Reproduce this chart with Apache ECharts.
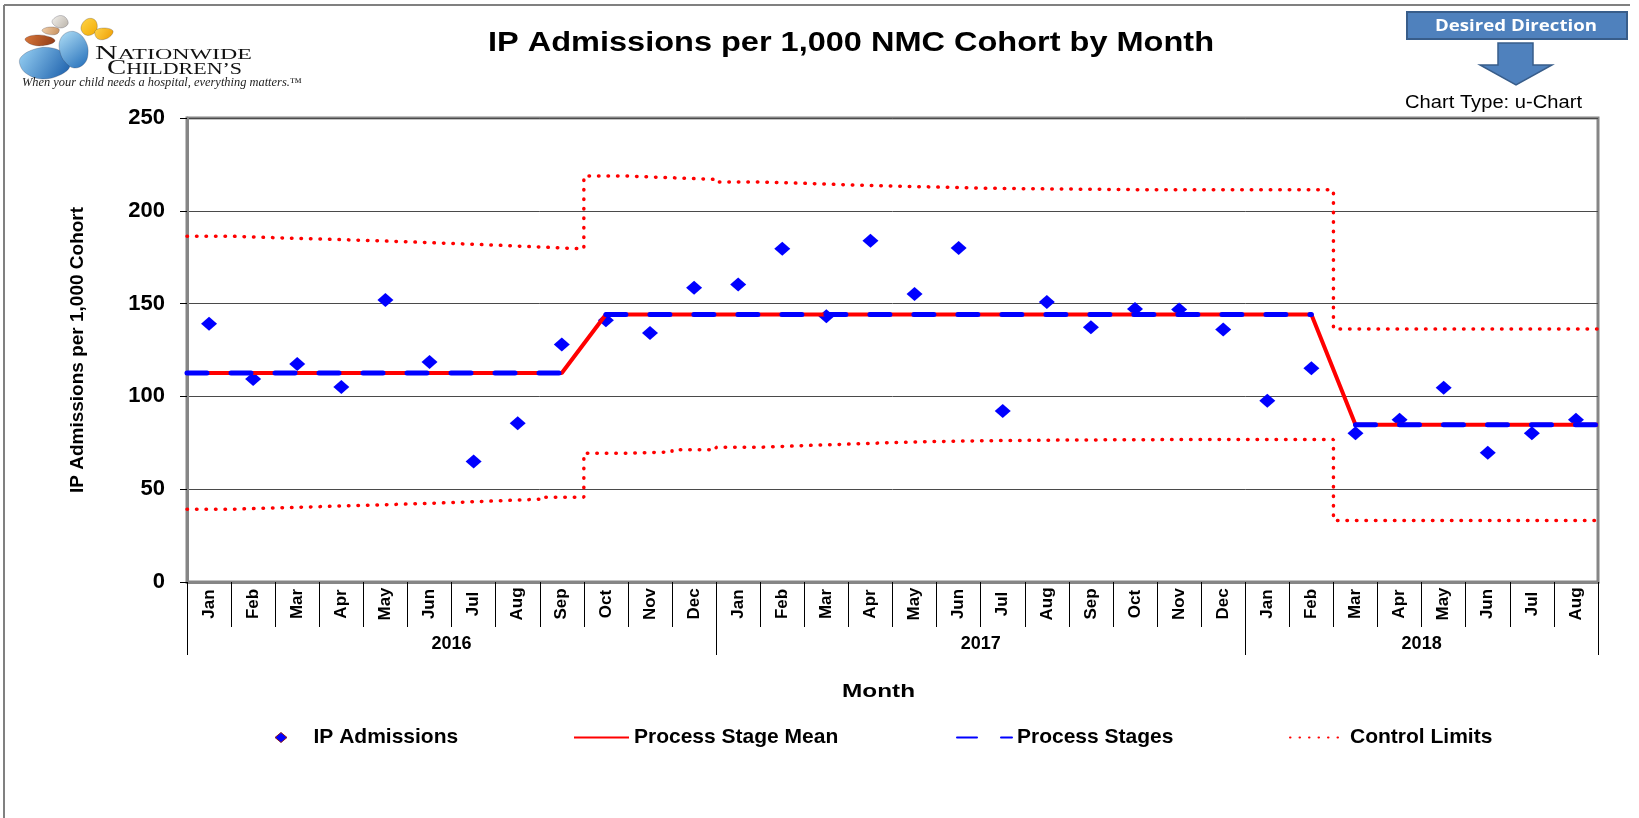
<!DOCTYPE html>
<html>
<head>
<meta charset="utf-8">
<title>IP Admissions per 1,000 NMC Cohort by Month</title>
<script src="https://cdn.jsdelivr.net/npm/echarts@6.0.0/dist/echarts.min.js"></script>
<style>
  html, body { margin: 0; padding: 0; background: #fff; }
  #chart { width: 1639px; height: 818px; }
</style>
</head>
<body>
<div id="chart"></div>
<script>
// ---- data ----
var months = ['Jan', 'Feb', 'Mar', 'Apr', 'May', 'Jun', 'Jul', 'Aug', 'Sep', 'Oct', 'Nov', 'Dec',
  'Jan', 'Feb', 'Mar', 'Apr', 'May', 'Jun', 'Jul', 'Aug', 'Sep', 'Oct', 'Nov', 'Dec',
  'Jan', 'Feb', 'Mar', 'Apr', 'May', 'Jun', 'Jul', 'Aug'];
var years = ['2016', '2017', '2018'];
var monthsPerYear = [12, 12, 8];

var admissions = [139.2, 109.4, 117.4, 105.0, 152.0, 118.5, 64.9, 85.6, 127.9, 141.0, 134.2, 158.6,
  160.3, 179.5, 143.2, 183.8, 155.2, 180.0, 92.1, 150.9, 137.2, 147.1, 146.8, 136.0,
  97.7, 115.1, 80.2, 87.4, 104.7, 69.6, 80.2, 87.4];

var stageMean = [112.6, 112.6, 112.6, 112.6, 112.6, 112.6, 112.6, 112.6, 112.6, 144.1, 144.1, 144.1,
  144.1, 144.1, 144.1, 144.1, 144.1, 144.1, 144.1, 144.1, 144.1, 144.1, 144.1, 144.1,
  144.1, 144.1, 84.7, 84.7, 84.7, 84.7, 84.7, 84.7];

var upperLimit = [186.3, 185.5, 184.8, 184.1, 183.3, 182.4, 181.5, 180.5, 179.5, 218.7, 217.8, 216.9,
  215.5, 214.8, 214.0, 213.3, 212.8, 212.2, 211.9, 211.7, 211.5, 211.3, 211.3, 211.3,
  211.3, 211.3, 136.3, 136.3, 136.3, 136.3, 136.3, 136.3];

var lowerLimit = [39.2, 39.9, 40.6, 41.3, 42.0, 42.8, 43.7, 44.6, 45.7, 69.4, 70.1, 71.2,
  72.6, 73.5, 74.3, 75.1, 75.7, 76.1, 76.3, 76.5, 76.6, 76.7, 76.8, 76.8,
  76.8, 76.8, 33.1, 33.1, 33.1, 33.1, 33.1, 33.1];

var yMin = 0, yMax = 250, yStep = 50;

// ---- helpers ----
var SANS = '"Liberation Sans", Arial, sans-serif';
var SERIF = '"Liberation Serif", "Times New Roman", serif';

var yearBounds = [0];
monthsPerYear.forEach(function (n, i) { yearBounds.push(yearBounds[i] + n); });
var yearCenters = years.map(function (y, i) { return (yearBounds[i] + yearBounds[i + 1]) / 2; });

// control limits: flat across each month's slot
function limitPoints(vals) {
  var pts = vals.map(function (v, i) { return [i, v]; });
  pts.push([vals.length, vals[vals.length - 1]]);
  return pts;
}

// stage lines run edge to edge through the month centres
function meanPoints(vals, breakStages) {
  var pts = [[0, vals[0]]];
  vals.forEach(function (v, i) {
    if (breakStages && i > 0 && v !== vals[i - 1]) pts.push([i, '-']);
    pts.push([i + 0.5, v]);
  });
  pts.push([vals.length, vals[vals.length - 1]]);
  return pts;
}

var measureCtx = document.createElement('canvas').getContext('2d');
function textWidth(text, font) {
  measureCtx.font = font;
  return measureCtx.measureText(text).width;
}
// text in the original picture is stretched sideways
function stretchText(text, font, x, baseline, size, width, extra) {
  return {
    type: 'text',
    x: x,
    y: baseline - 0.345 * size,
    scaleX: width / textWidth(text, font),
    style: Object.assign({ text: text, font: font, fill: '#000', align: 'left', verticalAlign: 'middle' }, extra || {})
  };
}

// ---- logo ----
var nFont = '19px ' + SERIF, nRestFont = '14.5px ' + SERIF;
var nScale = 157 / (textWidth('N', nFont) + textWidth('ATIONWIDE', nRestFont));
var cFont = '21px ' + SERIF, cRestFont = '16px ' + SERIF;
var cScale = 135 / (textWidth('C', cFont) + textWidth('HILDREN\u2019S', cRestFont));
var tagFont = 'italic 12px ' + SERIF;

function wing(points, c1, c2) {
  return {
    type: 'polygon',
    shape: { points: points, smooth: 0.4 },
    style: {
      fill: new echarts.graphic.LinearGradient(0, 0, 1, 1, [
        { offset: 0, color: c1 }, { offset: 1, color: c2 }
      ]),
      stroke: 'rgba(40,40,60,0.4)',
      lineWidth: 0.6
    }
  };
}

var logo = [
  wing([[25, 39], [36, 35], [50, 37], [55, 41], [47, 45], [33, 45]], '#D9773A', '#8E3A16'),
  wing([[52, 22], [58, 16], [65, 17], [68, 24], [60, 28]], '#F4F2EE', '#B9B2A8'),
  wing([[42, 30], [50, 27], [59, 29], [57, 34], [47, 34]], '#F3D2AE', '#C58D5A'),
  wing([[81, 27], [87, 19], [95, 20], [97, 29], [91, 35], [84, 34]], '#FFD54A', '#F2A900'),
  wing([[95, 31], [104, 28], [113, 31], [108, 38], [98, 39]], '#FFD54A', '#EE9A00'),
  wing([[21, 57], [35, 49], [52, 48], [66, 55], [70, 66], [60, 75], [42, 79], [27, 74], [20, 65]], '#9AD3F5', '#165AA8'),
  wing([[60, 40], [68, 32], [78, 33], [86, 42], [88, 54], [84, 64], [74, 68], [65, 62], [60, 52]], '#B2E0F7', '#1F6BB8'),
  {
    type: 'text', x: 95, y: 60.5 - 0.34 * 19, scaleX: nScale,
    style: { text: 'N', font: nFont, fill: '#111', verticalAlign: 'middle' }
  },
  {
    type: 'text', x: 95 + textWidth('N', nFont) * nScale, y: 60.5 - 0.34 * 14.5, scaleX: nScale,
    style: { text: 'ATIONWIDE', font: nRestFont, fill: '#111', verticalAlign: 'middle' }
  },
  {
    type: 'text', x: 107, y: 75.5 - 0.34 * 21, scaleX: cScale,
    style: { text: 'C', font: cFont, fill: '#111', verticalAlign: 'middle' }
  },
  {
    type: 'text', x: 107 + textWidth('C', cFont) * cScale, y: 75.5 - 0.34 * 16, scaleX: cScale,
    style: { text: 'HILDREN\u2019S', font: cRestFont, fill: '#111', verticalAlign: 'middle' }
  },
  stretchText('When your child needs a hospital, everything matters.\u2122', tagFont, 22, 86.5, 12, 280, { fill: '#222' })
];

// ---- header pieces ----
var titleText = 'IP Admissions per 1,000 NMC Cohort by Month';
var titleFont = 'bold 28px ' + SANS;
var title = stretchText(titleText, titleFont, 488, 53.3, 28, 726);

var ddFont = 'bold 16px "Open Sans", ' + SANS;
var desired = [
  {
    type: 'rect',
    shape: { x: 1407, y: 12, width: 220, height: 27 },
    style: { fill: '#4F81BD', stroke: '#385D8A', lineWidth: 2 }
  },
  stretchText('Desired Direction', ddFont, 1435, 31.5, 16, 162, { fill: '#fff' }),
  {
    type: 'polygon',
    shape: { points: [[1498, 43], [1533, 43], [1533, 65], [1552, 65], [1516, 85], [1480, 65], [1498, 65]] },
    style: { fill: '#4F81BD', stroke: '#385D8A', lineWidth: 1.5 }
  },
  stretchText('Chart Type: u-Chart', '17.5px ' + SANS, 1405, 109.5, 17.5, 177)
];

var monthTitle = stretchText('Month', 'bold 19px ' + SANS, 842, 698.3, 19, 73);

var frame = [
  { type: 'line', shape: { x1: 4, y1: 5, x2: 1630, y2: 5 }, style: { stroke: '#808080', lineWidth: 2 } },
  { type: 'line', shape: { x1: 4, y1: 5, x2: 4, y2: 818 }, style: { stroke: '#808080', lineWidth: 2 } }
];

// ---- legend ----
var legendText = { fontFamily: SANS, fontSize: 21, fontWeight: 'bold', color: '#000' };
var diamondIcon = 'path://M0,0ZM55,14ZM27.5,2L33.5,7L27.5,12L21.5,7Z';
var noSymbol = { opacity: 0 };
var legends = [
  { left: 253, data: [{ name: 'IP Admissions', icon: diamondIcon, itemStyle: { color: '#0000FF', borderColor: '#8B1A1A', borderWidth: 1 } }] },
  { left: 573, data: [{ name: 'Process Stage Mean', itemStyle: noSymbol }] },
  { left: 956, data: [{ name: 'Process Stages', itemStyle: noSymbol }] },
  { left: 1289, data: [{ name: 'Control Limits', itemStyle: noSymbol }] }
].map(function (l) {
  return Object.assign({
    top: 727, padding: 0, itemWidth: 55, itemHeight: 14,
    selectedMode: false, textStyle: legendText
  }, l);
});

var chart = echarts.init(document.getElementById('chart'));

var option = {
  animation: false,
  textStyle: { fontFamily: SANS },
  graphic: { elements: frame.concat(logo, [title], desired, [monthTitle]) },
  legend: legends,
  grid: {
    left: 187, right: 41, top: 118, bottom: 236,
    show: true, borderColor: '#868686', borderWidth: 3,
    containLabel: false, outerBoundsMode: 'none'
  },
  xAxis: [
    {
      type: 'category',
      data: months,
      position: 'bottom',
      boundaryGap: true,
      axisLine: { show: true, lineStyle: { color: '#868686', width: 3 } },
      axisTick: { show: true, interval: 0, length: 45, lineStyle: { color: '#000', width: 1 } },
      axisLabel: {
        interval: 0, rotate: 90, align: 'center', verticalAlign: 'middle', margin: 22,
        fontSize: 17, fontWeight: 'bold', color: '#000', fontFamily: SANS
      },
      splitLine: { show: false }
    },
    {
      type: 'value',
      min: 0,
      max: months.length,
      position: 'bottom',
      offset: 45,
      axisLine: { show: false },
      splitLine: { show: false },
      axisTick: { show: true, customValues: yearBounds, length: 28, lineStyle: { color: '#000', width: 1 } },
      axisLabel: {
        customValues: yearCenters,
        formatter: function (v) { return years[yearCenters.indexOf(v)] || ''; },
        margin: 8, fontSize: 18, fontWeight: 'bold', color: '#000', fontFamily: SANS
      }
    }
  ],
  yAxis: {
    type: 'value',
    min: yMin,
    max: yMax,
    interval: yStep,
    name: 'IP Admissions per 1,000 Cohort',
    nameLocation: 'middle',
    nameGap: 100,
    nameTextStyle: { fontSize: 19, fontWeight: 'bold', color: '#000', fontFamily: SANS },
    axisLine: { show: true, lineStyle: { color: '#868686', width: 3 } },
    axisTick: { show: true, length: 7, lineStyle: { color: '#000' } },
    axisLabel: { margin: 22, fontSize: 22, fontWeight: 'bold', color: '#000', fontFamily: SANS },
    splitLine: { show: true, lineStyle: { color: '#4a4a4a', width: 1 } }
  },
  series: [
    {
      name: 'IP Admissions',
      type: 'scatter',
      xAxisIndex: 0,
      data: admissions,
      symbol: 'diamond',
      symbolSize: [16, 14],
      itemStyle: { color: '#0000FF', opacity: 1 }
    },
    {
      name: 'Process Stage Mean',
      type: 'line',
      xAxisIndex: 1,
      data: meanPoints(stageMean, false),
      symbol: 'none',
      color: '#FF0000',
      lineStyle: { color: '#FF0000', width: 4 }
    },
    {
      name: 'Process Stages',
      type: 'line',
      xAxisIndex: 1,
      data: meanPoints(stageMean, true),
      symbol: 'none',
      color: '#0000FF',
      lineStyle: { color: '#0000FF', width: 5, type: [20, 24], cap: 'round' }
    },
    {
      name: 'Control Limits',
      type: 'line',
      xAxisIndex: 1,
      step: 'end',
      data: limitPoints(upperLimit),
      symbol: 'none',
      color: '#FF0000',
      lineStyle: { color: '#FF0000', width: 3.5, type: [0.5, 9], cap: 'round' }
    },
    {
      name: 'Control Limits',
      type: 'line',
      xAxisIndex: 1,
      step: 'end',
      data: limitPoints(lowerLimit),
      symbol: 'none',
      color: '#FF0000',
      lineStyle: { color: '#FF0000', width: 3.5, type: [0.5, 9], cap: 'round' }
    }
  ]
};

chart.setOption(option);
</script>
</body>
</html>
